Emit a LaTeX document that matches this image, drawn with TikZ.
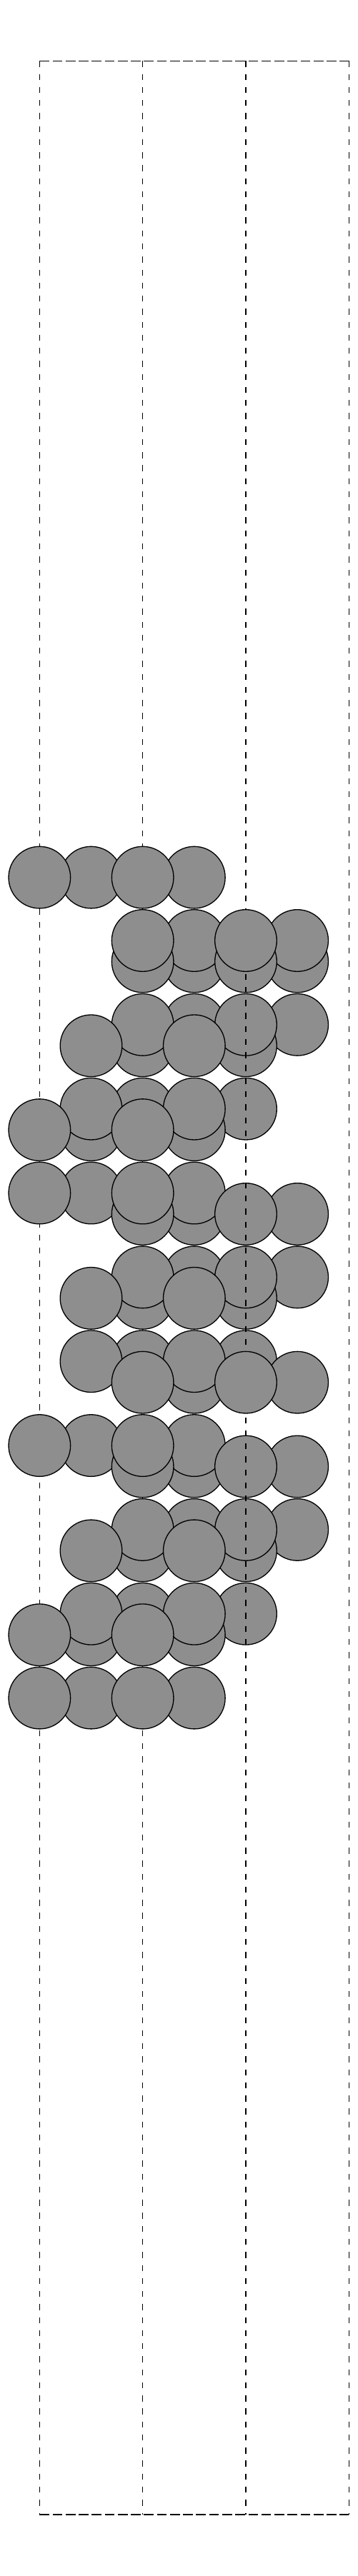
\documentclass[tikz,border=0pt]{standalone}
\definecolor{ballgray}{RGB}{142,142,142}
\tikzset{
  ball/.style={fill=ballgray,draw=black,line width=0.26pt},
  vframe/.style={draw=black,line width=0.26pt,dash pattern=on 1.65pt off 1.95pt},
  hframe/.style={draw=black,line width=0.26pt,dash pattern=on 2.7pt off 0.9pt}
}
\begin{document}
\begin{tikzpicture}
\useasboundingbox (-0.3834,-24.400) rectangle (3.0809,0.5912);
% frame corners
\coordinate (tl) at (0,0);
\coordinate (tr) at (3,0);
\coordinate (bl) at (0,-23.804);
\coordinate (br) at (3,-23.804);
\coordinate (t1) at (1,0);
\coordinate (b1) at (1,-23.804);
\coordinate (t2) at (2,0);
\coordinate (b2) at (2,-23.804);
\draw[hframe] (tl) -- (tr);
\draw[hframe] (bl) -- (br);
\draw[vframe] (tl) -- (bl);
\draw[vframe] (t1) -- (b1);
\draw[vframe] (tr) -- (br);
% rows: depth below frame top / window shift
\def\Arows{7.9211/0,8.5335/2,10.3706/0,10.9830/0,12.8201/2,13.4325/0,15.2696/0,15.8820/0}
\def\Brows{9.5541/1,10.1665/1,12.0036/1,12.6160/1,14.4531/1,15.0655/1}
\def\Crows{8.7376/2,9.3500/2,11.1871/2,11.7995/2,13.6366/2,14.2490/2}
% farthest first
\foreach \d/\s in \Crows {\foreach \k in {1,3} \draw[ball] ({(\s+\k)*0.5},-\d) circle (0.3);}
\foreach \d/\s in \Brows {\foreach \k in {1,3} \draw[ball] ({(\s+\k)*0.5},-\d) circle (0.3);}
\foreach \d/\s in \Arows {\foreach \k in {1,3} \draw[ball] ({(\s+\k)*0.5},-\d) circle (0.3);}
\foreach \d/\s in \Crows {\foreach \k in {0,2} \draw[ball] ({(\s+\k)*0.5},-\d) circle (0.3);}
\foreach \d/\s in \Brows {\foreach \k in {0,2} \draw[ball] ({(\s+\k)*0.5},-\d) circle (0.3);}
\draw[vframe] (t2) -- (b2);
\foreach \d/\s in \Arows {\foreach \k in {0,2} \draw[ball] ({(\s+\k)*0.5},-\d) circle (0.3);}
\end{tikzpicture}
\end{document}
